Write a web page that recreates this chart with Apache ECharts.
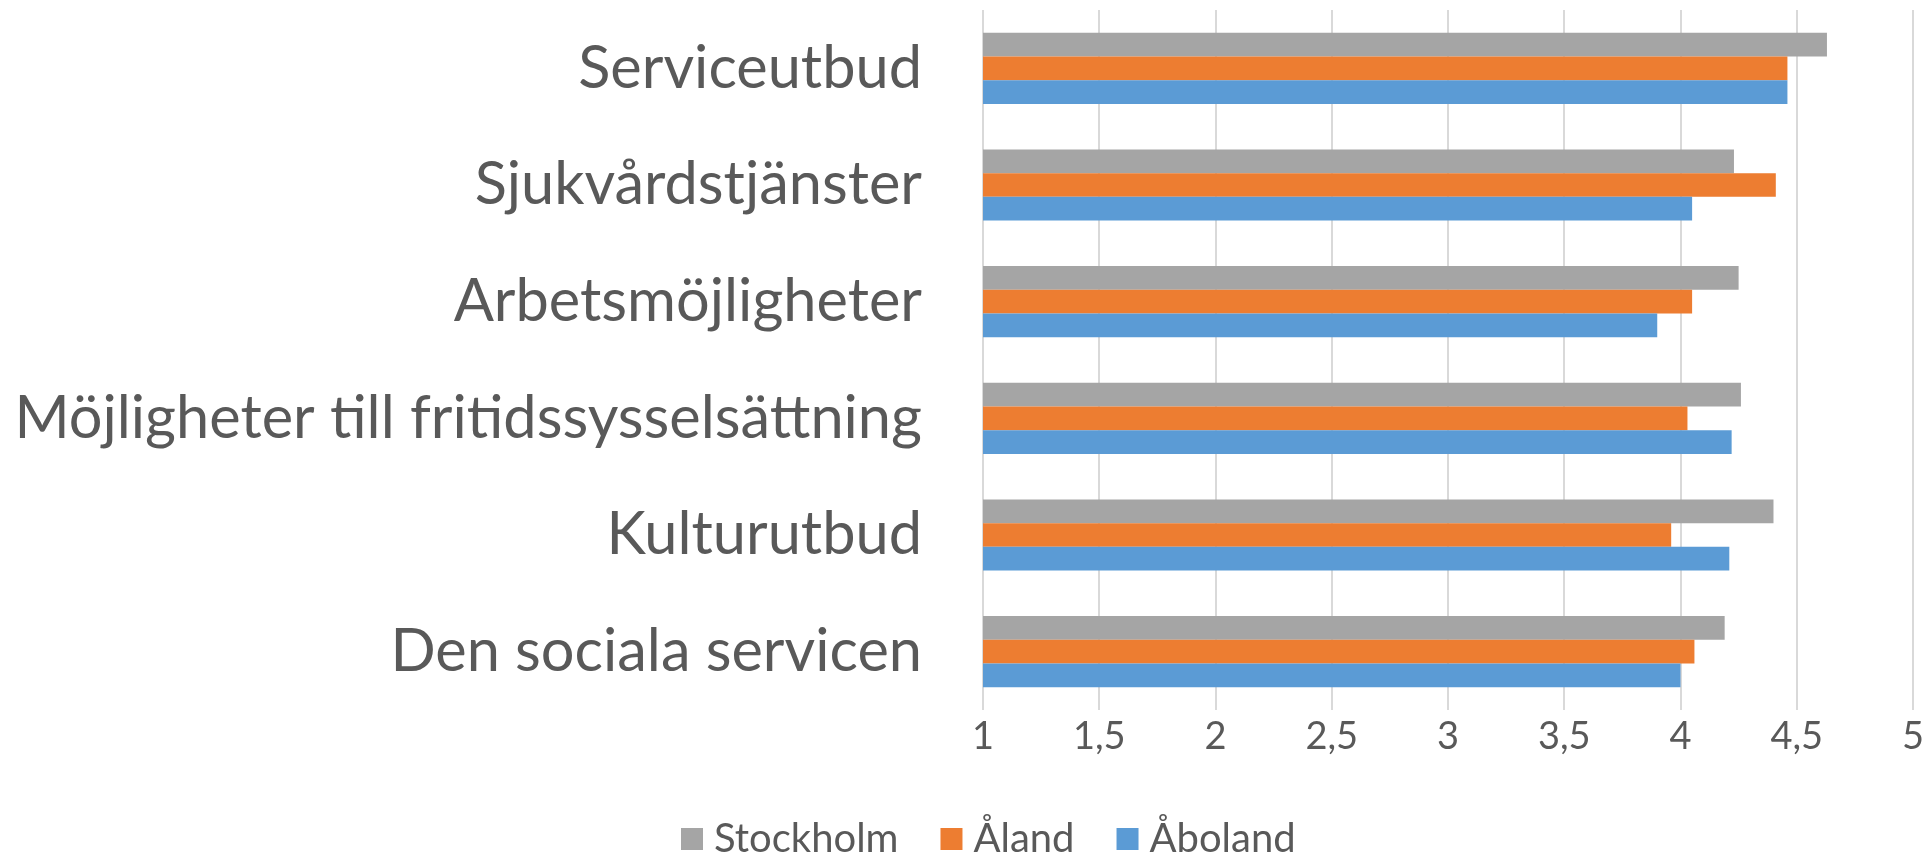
<!DOCTYPE html>
<html>
<head>
<meta charset="utf-8">
<script src="https://cdn.jsdelivr.net/npm/echarts@6/dist/echarts.min.js"></script>
<style>
  html, body { margin: 0; padding: 0; background: #fff; }
  #main { width: 1927px; height: 856px; }
</style>
</head>
<body>
<div id="main"></div>
<script>
// data
const categories = ['Serviceutbud', 'Sjukvårdstjänster', 'Arbetsmöjligheter',
  'Möjligheter till fritidssysselsättning', 'Kulturutbud', 'Den sociala servicen'];
const stockholm = [4.63, 4.23, 4.25, 4.26, 4.40, 4.19];
const aland = [4.46, 4.41, 4.05, 4.03, 3.96, 4.06];
const aboland = [4.46, 4.05, 3.90, 4.22, 4.21, 4.00];
const seriesNames = ['Stockholm', 'Åland', 'Åboland'];
const colors = ['#A5A5A5', '#ED7D31', '#5B9BD5'];

const font = 'Lato';
const textColor = '#595959';

let myChart = echarts.init(document.getElementById('main'));
let option = {
    animation: false,
    color: colors,
    textStyle: {fontFamily: font},
    grid: {
        left: 983,
        right: 14,
        top: 10,
        bottom: 146
    },
    legend: {
        data: seriesNames,
        bottom: -8,
        left: 676,
        itemWidth: 22,
        itemHeight: 22,
        itemGap: 42,
        icon: 'rect',
        textStyle: {
            fontFamily: font,
            fontSize: 40,
            color: textColor,
            padding: [0, 0, 0, 6]
        }
    },
    xAxis: {
        type: 'value',
        min: 1,
        max: 5,
        interval: 0.5,
        axisLine: {show: false},
        axisTick: {show: false},
        splitLine: {
            lineStyle: {color: '#D9D9D9', width: 2}
        },
        axisLabel: {
            margin: 8,
            fontSize: 38,
            color: textColor,
            fontFamily: font,
            formatter: function (v) {
                return String(v).replace('.', ',');
            }
        }
    },
    yAxis: {
        type: 'category',
        data: categories,
        inverse: true,
        axisLine: {show: false},
        axisTick: {show: false},
        axisLabel: {
            margin: 61,
            fontSize: 59.5,
            color: textColor,
            fontFamily: font
        }
    },
    series: [
        {name: seriesNames[0], type: 'bar', data: stockholm, barGap: '0%', barCategoryGap: '39%'},
        {name: seriesNames[1], type: 'bar', data: aland, barGap: '0%', barCategoryGap: '39%'},
        {name: seriesNames[2], type: 'bar', data: aboland, barGap: '0%', barCategoryGap: '39%'}
    ]
};
myChart.setOption(option);
</script>
</body>
</html>
